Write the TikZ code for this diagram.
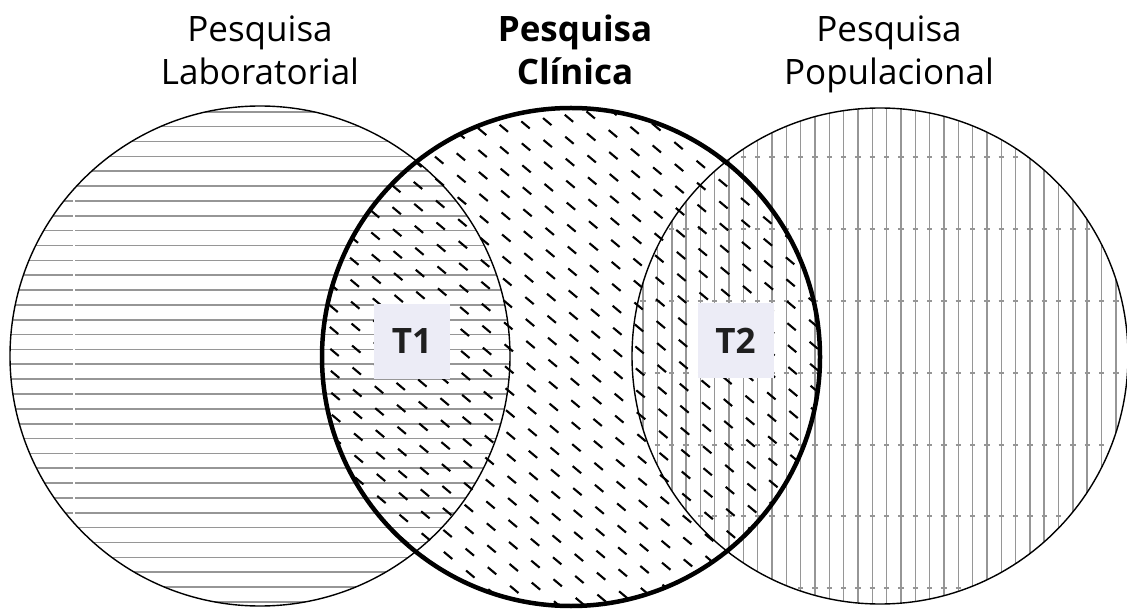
\documentclass[tikz,border=0pt]{standalone}
\usepackage{fontspec}
\newfontfamily\osans{Open Sans}
\definecolor{hatch}{RGB}{150,150,150}
\definecolor{boxfill}{RGB}{236,236,246}
\tikzset{
  head/.style={font=\osans\fontsize{35}{42}\selectfont, inner sep=0pt, anchor=base},
  headbold/.style={head, font=\osans\bfseries\fontsize{35}{42}\selectfont},
  hline/.style={draw=hatch, line width=1.6pt},
  dline/.style={draw=black, line width=2.1pt, dash pattern=on 11pt off 18pt},
  thinring/.style={draw=black, line width=1.4pt},
  thickring/.style={draw=black, line width=4.5pt},
  tbox/.style={fill=boxfill, minimum width=76pt, minimum height=75pt, inner sep=0pt,
    font=\osans\bfseries\fontsize{35}{42}\selectfont, text=black!88},
}
\begin{document}
\begin{tikzpicture}[x=1pt,y=-1pt]
\useasboundingbox (0,0) rectangle (1127,609);
\coordinate (cL) at (260,356);
\coordinate (cM) at (571,357);
\coordinate (cR) at (880,356);

% left circle: horizontal hatching
\begin{scope}
  \clip (cL) circle[radius=250pt];
  \foreach \k in {-2,...,33} {
    \pgfmathsetmacro\yy{126.7+14.85*\k}
    \draw[hline] (0,\yy) -- (520,\yy);
  }
  \draw[white, line width=2.2pt] (74,197) -- (74,516);
\end{scope}

% right circle: vertical hatching
\begin{scope}
  \clip (cR) circle[radius=248pt];
  \foreach \k in {-13,...,23} {
    \pgfmathsetmacro\xx{815+14.33*\k}
    \draw[hline] (\xx,100) -- (\xx,609);
    \foreach \t in {157,229,301,373,445,516,588} {
      \draw[draw=hatch, line width=1.6pt] (\xx-2.6,\t) -- (\xx+2.6,\t);
    }
  }
\end{scope}

% middle circle: dashed diagonal hatching
\begin{scope}
  \clip (cM) circle[radius=249pt];
  \foreach \k in {-26,...,26} {
    \pgfmathsetmacro\sx{571-\k*16.5*0.643-320*0.766}
    \pgfmathsetmacro\sy{357+\k*16.5*0.766-320*0.643}
    \pgfmathsetmacro\ex{\sx+640*0.766}
    \pgfmathsetmacro\ey{\sy+640*0.643}
    \pgfmathsetmacro\ph{mod(\k,2)==0 ? 0 : 14.5}
    \draw[dline, dash phase=\ph pt] (\sx,\sy) -- (\ex,\ey);
  }
\end{scope}

% outlines
\draw[thinring] (cL) circle[radius=250pt];
\draw[thinring] (cR) circle[radius=248pt];
\draw[thickring] (cM) circle[radius=249pt];

% labels in the overlaps
\node[tbox] (t1) at (412,341.5) {T1};
\node[tbox] (t2) at (735.5,341) {T2};

% headings
\node[head] (lab1) at (260,42) {Pesquisa};
\node[head] (lab2) at (260,85) {Laboratorial};
\node[headbold] (cli1) at (575,42) {Pesquisa};
\node[headbold] (cli2) at (575,85) {Clínica};
\node[head] (pop1) at (889,42) {Pesquisa};
\node[head] (pop2) at (889,85) {Populacional};
\end{tikzpicture}
\end{document}
